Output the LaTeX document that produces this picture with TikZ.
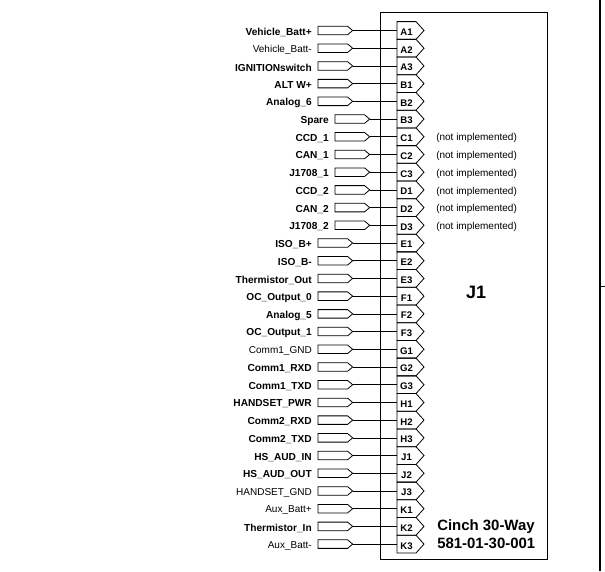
\documentclass[tikz,border=0pt]{standalone}
\usepackage{fontspec}
\setmainfont{Liberation Sans}
\usetikzlibrary{positioning}
\usetikzlibrary{shapes.symbols}

\tikzset{
    portshape/.style={draw, line width=0.6pt, shape=signal, signal to=east, signal pointer angle=80,
        minimum height=6.4pt, minimum width=26pt, inner sep=0pt, outer sep=0pt},
    pinshape/.style={draw, line width=0.6pt, shape=signal, signal to=east, signal pointer angle=96,
        minimum height=13.28pt, minimum width=20.25pt, inner sep=0pt, outer sep=0pt,
        font=\fontsize{7.2pt}{8pt}\selectfont\bfseries},
    strong/.style={font=\fontsize{7.6pt}{8pt}\selectfont\bfseries, inner sep=0pt, yshift=-1.2pt},
    plain/.style={font=\fontsize{7.5pt}{8pt}\selectfont, inner sep=0pt, yshift=-1.2pt},
    wire/.style={line width=0.5pt},
}

\begin{document}
\begin{tikzpicture}[x=0.75pt, y=-0.75pt]
    \useasboundingbox (0,0) rectangle (605,571);
    \node[draw, line width=0.6pt, minimum width=125.25pt, minimum height=410.25pt, inner sep=0pt, outer sep=0pt] (housing) at (463.5,285.75) {};
    \foreach \pin/\signame/\weight/\portx [count=\i from 0] in {
        A1/Vehicle\_Batt+/strong/318, A2/Vehicle\_Batt-/plain/318, A3/IGNITIONswitch/strong/318,
        B1/ALT W+/strong/318, B2/Analog\_6/strong/318, B3/Spare/strong/335,
        C1/CCD\_1/strong/335, C2/CAN\_1/strong/335, C3/J1708\_1/strong/335,
        D1/CCD\_2/strong/335, D2/CAN\_2/strong/335, D3/J1708\_2/strong/335,
        E1/ISO\_B+/strong/318, E2/ISO\_B-/strong/318, E3/Thermistor\_Out/strong/318,
        F1/OC\_Output\_0/strong/318, F2/Analog\_5/strong/318, F3/OC\_Output\_1/strong/318,
        G1/Comm1\_GND/plain/318, G2/Comm1\_RXD/strong/318, G3/Comm1\_TXD/strong/318,
        H1/HANDSET\_PWR/strong/318, H2/Comm2\_RXD/strong/318, H3/Comm2\_TXD/strong/318,
        J1/HS\_AUD\_IN/strong/318, J2/HS\_AUD\_OUT/strong/318, J3/HANDSET\_GND/plain/318,
        K1/Aux\_Batt+/plain/318, K2/Thermistor\_In/strong/318, K3/Aux\_Batt-/plain/318} {
        \node[pinshape, anchor=west] (pin\pin) at (397,30.5+17.71*\i) {\raisebox{-3.7pt}[0pt][0pt]{\pin}};
        \node[portshape, anchor=west] (port\pin) at (\portx,30.5+17.71*\i) {};
        \node[\weight, anchor=east, left=4.5pt of port\pin.west] (name\pin) {\signame};
        \draw[wire] (port\pin.east) -- (pin\pin.west);
    }
    \foreach \pin in {C1,C2,C3,D1,D2,D3} {
        \node[plain, anchor=west, right=9pt of pin\pin.east] (note\pin) {(not implemented)};
    }
    \node[font=\fontsize{13.5pt}{15pt}\selectfont\bfseries, inner sep=0pt] (title) at (476,292) {J1};
    \node[font=\fontsize{11.2pt}{13.3pt}\selectfont\bfseries, align=left, anchor=west, inner sep=0pt] (partno) at (437,534) {Cinch 30-Way\\581-01-30-001};
    \coordinate (railtop) at (600,0);
    \coordinate (railbot) at (600,571);
    \coordinate (railmid) at (600,286);
    \coordinate (railend) at (605,286);
    \draw[line width=1.2pt] (railtop) -- (railbot);
    \draw[line width=0.6pt] (railmid) -- (railend);
\end{tikzpicture}
\end{document}
